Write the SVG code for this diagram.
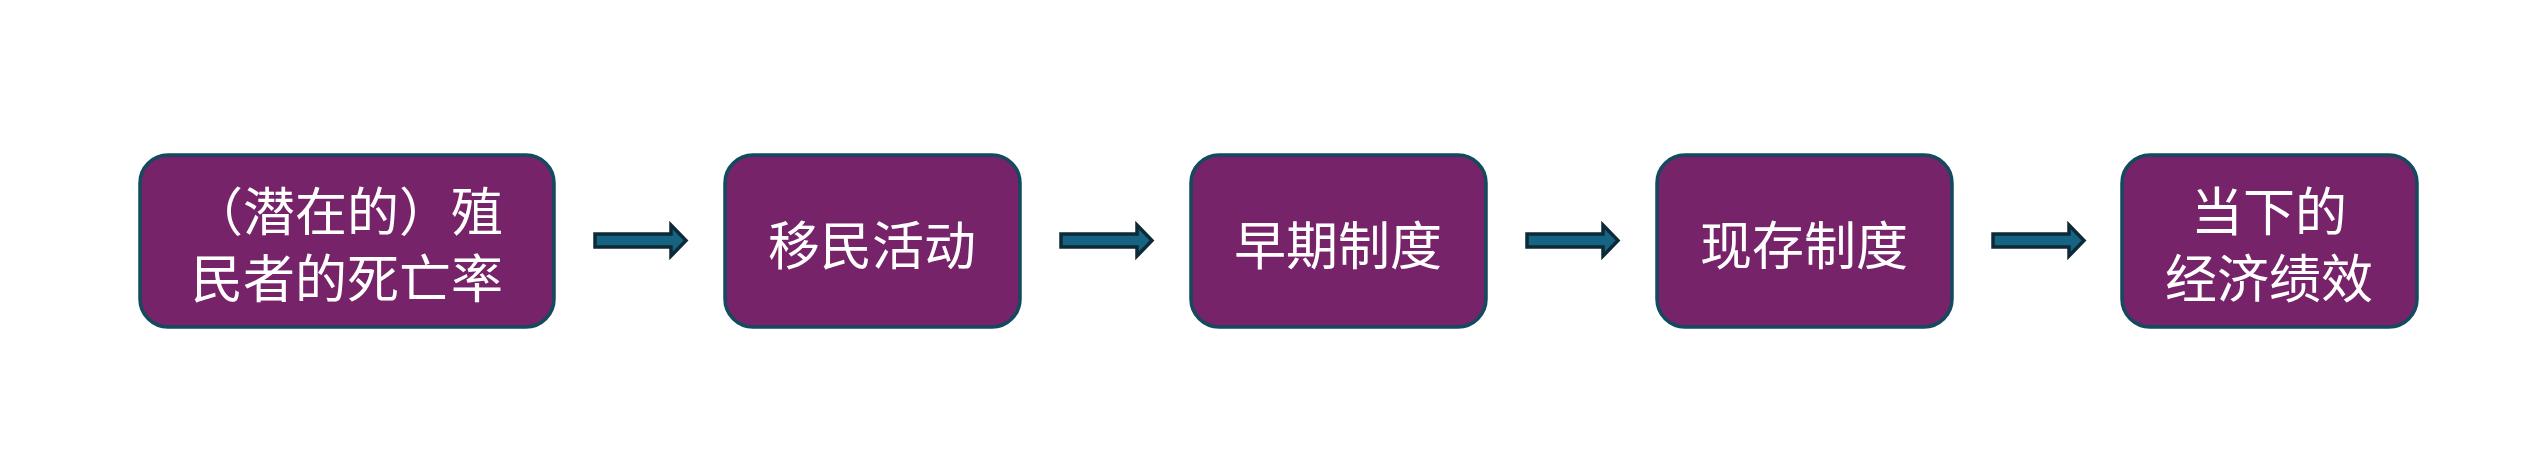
<svg xmlns="http://www.w3.org/2000/svg" width="2548" height="476" viewBox="0 0 2548 476">
<style>
.box{fill:#77236A;stroke:#124A5E;stroke-width:3.5}
.t{fill:#FFFFFF;font-family:"Noto Sans CJK SC","Noto Sans",sans-serif;font-size:52px;text-anchor:middle}
.arr{fill:#166382;stroke:#0C2A38;stroke-width:3.5;stroke-linejoin:miter}
</style>
<rect width="2548" height="476" fill="#FFFFFF"/>
<g id="node1"><rect class="box" x="140" y="155" width="414" height="172" rx="28"/><text class="t" x="347" y="231">（潜在的）殖</text><text class="t" x="347" y="298">民者的死亡率</text></g>
<g id="node2"><rect class="box" x="725" y="155" width="295" height="172" rx="28"/><text class="t" x="872" y="265">移民活动</text></g>
<g id="node3"><rect class="box" x="1191" y="155" width="295" height="172" rx="28"/><text class="t" x="1338" y="265">早期制度</text></g>
<g id="node4"><rect class="box" x="1657" y="155" width="295" height="172" rx="28"/><text class="t" x="1804" y="265">现存制度</text></g>
<g id="node5"><rect class="box" x="2122" y="155" width="295" height="172" rx="28"/><text class="t" x="2269" y="231">当下的</text><text class="t" x="2269" y="298">经济绩效</text></g>
<g id="connectors">
<path class="arr" d="M595,234 H671 V225 L686,240.5 L671,256 V247 H595 Z"/>
<path class="arr" d="M1061,234 H1137 V225 L1152,240.5 L1137,256 V247 H1061 Z"/>
<path class="arr" d="M1527,234 H1603 V225 L1618,240.5 L1603,256 V247 H1527 Z"/>
<path class="arr" d="M1993,234 H2069 V225 L2084,240.5 L2069,256 V247 H1993 Z"/>
</g>
</svg>
